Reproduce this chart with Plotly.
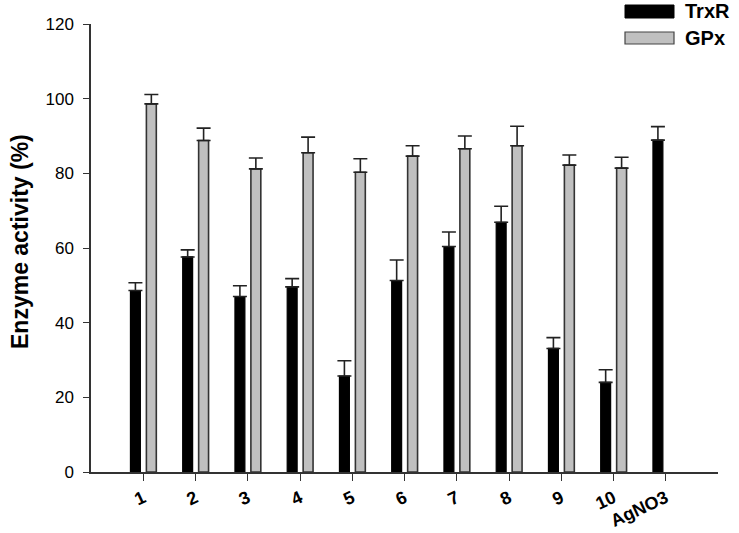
import plotly.graph_objects as go

# group labels on the x axis
groups = ["1", "2", "3", "4", "5", "6", "7", "8", "9", "10", "AgNO3"]

# TrxR activity (%) and upper error
trxr = [48.6, 57.6, 47.0, 49.6, 25.7, 51.3, 60.4, 66.9, 33.1, 24.0, 88.9]
trxr_err = [2.1, 1.9, 2.9, 2.2, 4.1, 5.5, 3.9, 4.3, 2.9, 3.4, 3.6]

# GPx activity (%) and upper error (no GPx bar for AgNO3)
gpx = [98.6, 88.8, 81.2, 85.5, 80.3, 84.6, 86.6, 87.4, 82.2, 81.4, None]
gpx_err = [2.5, 3.3, 2.9, 4.2, 3.6, 2.8, 3.4, 5.2, 2.7, 2.9, None]

xpos = list(range(len(groups)))

# plot area in page pixels: 91..718 x 24..472
L, T, W, H = 91, 24, 627, 448

fig = go.Figure()
fig.add_trace(go.Bar(
    x=xpos, y=trxr, name="TrxR", width=0.19, offset=-0.245,
    marker=dict(color="black", line=dict(color="black", width=1.2)),
    error_y=dict(type="data", array=trxr_err, arrayminus=[0] * len(trxr_err),
                 symmetric=False, color="#222", thickness=1.6, width=7),
    showlegend=False))
fig.add_trace(go.Bar(
    x=xpos, y=gpx, name="GPx", width=0.19, offset=0.06,
    marker=dict(color="#c0c0c0", line=dict(color="#333", width=1.6)),
    error_y=dict(type="data", array=gpx_err, arrayminus=[0] * len(gpx_err),
                 symmetric=False, color="#222", thickness=1.6, width=7),
    showlegend=False))


def px(x):
    return (x - L) / W


def py(y):
    return (T + H - y) / H


# legend drawn by hand: wide swatches like the original
fig.add_shape(type="rect", xref="paper", yref="paper",
              x0=px(625), x1=px(674), y0=py(18), y1=py(5),
              fillcolor="black", line=dict(color="black", width=1))
fig.add_shape(type="rect", xref="paper", yref="paper",
              x0=px(625), x1=px(674), y0=py(44), y1=py(32),
              fillcolor="#c0c0c0", line=dict(color="#444", width=1.2))
fig.add_annotation(text="<b>TrxR</b>", xref="paper", yref="paper",
                   x=px(683), y=py(11.5), xanchor="left", yanchor="middle", showarrow=False,
                   font=dict(family="Liberation Sans, Arial", size=20, color="black"))
fig.add_annotation(text="<b>GPx</b>", xref="paper", yref="paper",
                   x=px(683), y=py(38), xanchor="left", yanchor="middle", showarrow=False,
                   font=dict(family="Liberation Sans, Arial", size=20, color="black"))

# y title
fig.add_annotation(text="<b>Enzyme activity (%)</b>", xref="paper", yref="paper",
                   x=px(20), y=py(242), textangle=-90,
                   xanchor="center", yanchor="middle", showarrow=False,
                   font=dict(family="Liberation Sans, Arial", size=23, color="black"))

fig.update_layout(
    width=739, height=533,
    margin=dict(l=L, r=739 - L - W, t=T, b=533 - T - H, autoexpand=False),
    plot_bgcolor="white", paper_bgcolor="white",
    barmode="overlay",
    xaxis=dict(range=[-1, 11], tickvals=xpos, ticktext=["<b>" + g + "</b>" for g in groups],
               tickangle=-25, ticks="outside", ticklen=7, tickwidth=1.3, tickcolor="#333",
               showline=True, linecolor="#333", linewidth=1.5, showgrid=False, zeroline=False,
               tickfont=dict(family="Liberation Sans, Arial", size=18, color="black")),
    yaxis=dict(range=[0, 120], tickvals=[0, 20, 40, 60, 80, 100, 120], ticks="outside",
               ticklen=6, tickwidth=1.3, tickcolor="#333", showline=True, linecolor="#333",
               linewidth=1.5, showgrid=False, zeroline=False, ticklabelstandoff=6,
               tickfont=dict(family="Liberation Sans, Arial", size=17, color="black")),
)

# drop the default page margin so the figure fills the window
fig.write_html("out.html", config={"displayModeBar": False},
               post_script="document.body.style.margin='0px';")
